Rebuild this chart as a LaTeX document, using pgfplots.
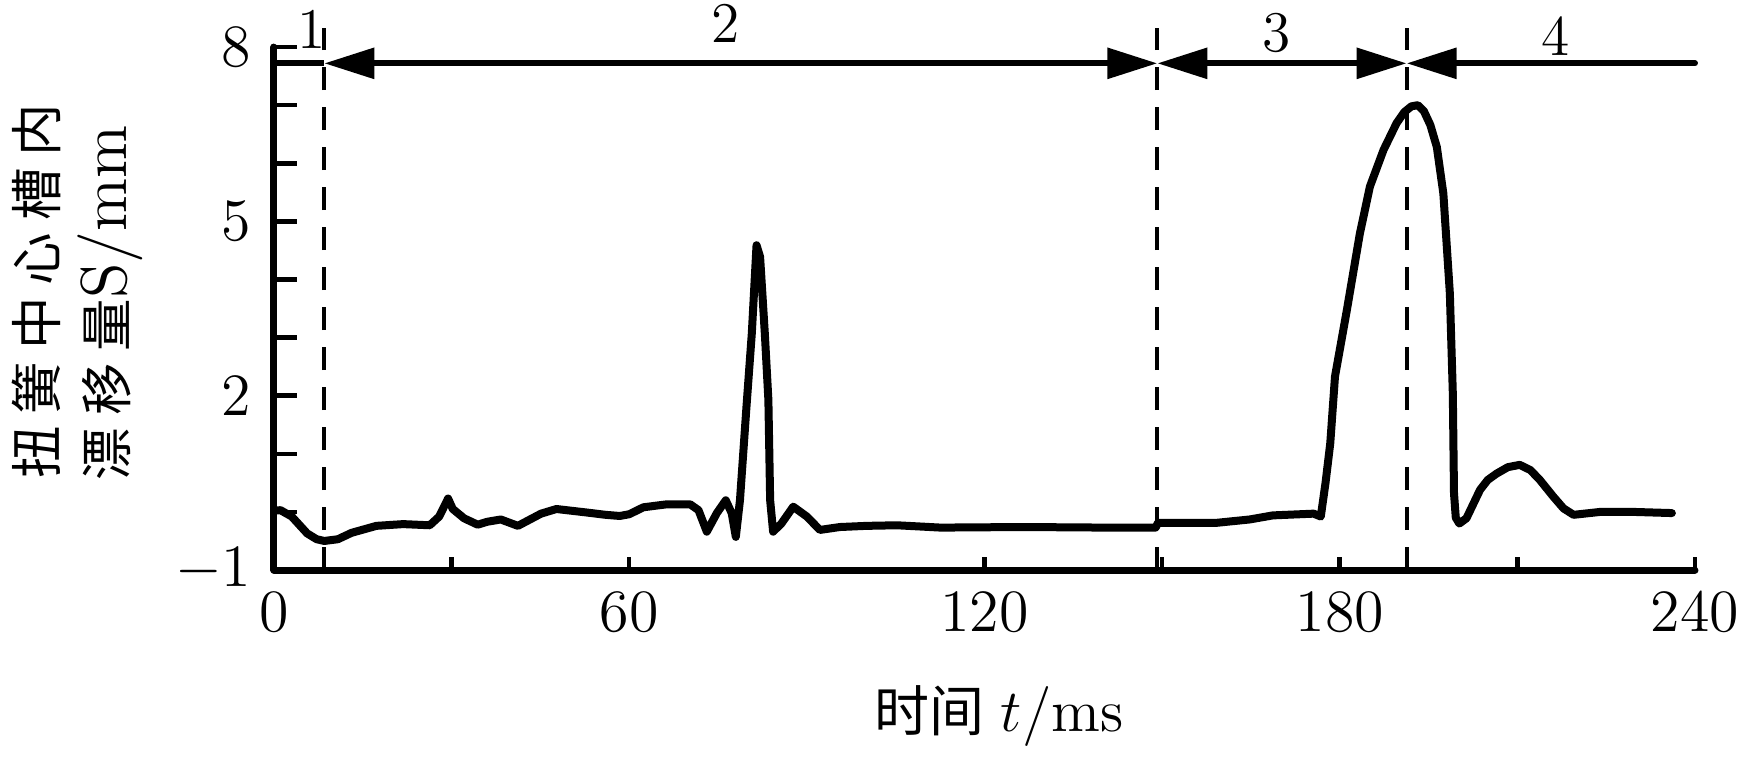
\documentclass[border=0pt]{standalone}
\usepackage{fontspec}
\usepackage{pgfplots}
\pgfplotsset{compat=1.18}
\usetikzlibrary{arrows.meta}
\newfontfamily\cjk{Noto Sans CJK SC}
\newcommand{\cgap}{\hspace{2.4pt}}
\begin{document}
\begin{tikzpicture}
\path[use as bounding box] (-54.8pt,-39.8pt) rectangle (294.4pt,114pt);
\begin{axis}[
  at={(0pt,0pt)}, anchor=south west,
  scale only axis, width=284.2pt, height=104.6pt,
  xmin=0, xmax=240, ymin=-1, ymax=8,
  axis lines=left,
  axis line style={-, line width=1.4pt, line cap=round},
  clip=false,
  tick align=inside,
  xtick={0,60,...,240}, minor xtick={30,150,210},
  ytick={-1,2,5,8}, minor ytick={0,1,3,4,6,7},
  major tick length=4.6pt, minor tick length=4.6pt,
  xtick style={/pgfplots/major tick length=2.6pt, /pgfplots/minor tick length=2.6pt},
  every tick/.style={line width=0.9pt, black},
  ticklabel style={font=\fontsize{11.5}{13}\selectfont},
  xticklabel style={yshift=-1pt},
  yticklabel style={xshift=-1pt},
]
\addplot[black, line width=1.6pt, line join=round, line cap=round] coordinates {
(0,0.02) (1.1,0.03) (3.0,-0.08) (5.6,-0.37) (7.2,-0.47) (8.5,-0.50) (10.8,-0.47) (13.1,-0.36)
(17.3,-0.24) (21.8,-0.21) (26.3,-0.23) (27.9,-0.08) (29.4,0.23) (30.2,0.05)
(32.1,-0.11) (34.4,-0.22) (36,-0.17) (38.3,-0.13) (41.2,-0.24) (45.1,-0.03)
(47.7,0.05) (52.8,-0.01) (56,-0.05) (58.4,-0.07) (60,-0.04) (62.4,0.08)
(66.3,0.13) (70.3,0.13) (71.7,0.03) (73.1,-0.34) (74.8,-0.02) (76.3,0.20)
(77.3,-0.02) (78.0,-0.43) (78.7,0.20) (79.8,1.81) (80.7,3.07) (81.5,4.59)
(82.1,4.39) (82.9,3.07) (83.5,1.93) (83.8,0.20) (84.3,-0.34) (85.7,-0.20)
(87.7,0.09) (90.0,-0.08) (92.2,-0.31) (95.6,-0.26) (100.1,-0.24) (105.2,-0.23)
(112.6,-0.27) (126.6,-0.26) (140.5,-0.27) (148.9,-0.27) (149.3,-0.19)
(159,-0.19) (164.8,-0.13) (168.7,-0.06) (175.6,-0.03) (176.8,-0.08)
(177.6,0.5) (178.4,1.18) (179.2,2.33) (181.2,3.47) (183.4,4.79) (185.1,5.6) (187.4,6.23)
(189.6,6.69) (190.9,6.88) (192.1,6.98) (193.2,7.0) (194.2,6.9) (195.3,6.66) (196.4,6.28) (197.5,5.48)
(198.6,3.76) (199.1,2.04) (199.3,0.32) (199.6,-0.1) (200.2,-0.2) (201.4,-0.11) (203.7,0.38)
(205.0,0.55) (206.5,0.66) (208.4,0.77) (210.4,0.81) (212.2,0.72) (213.8,0.55) (216.1,0.26) (217.8,0.06) (219.5,-0.05) (224.0,0.0)
(229.6,0.0) (236.1,-0.02)
};
% dashed separators
\addplot[black, line width=0.8pt, dash pattern=on 4.6pt off 3.4pt] coordinates {(8.5,-1) (8.5,8.33)};
\addplot[black, line width=0.8pt, dash pattern=on 4.6pt off 3.4pt] coordinates {(149.2,-1) (149.2,8.33)};
\addplot[black, line width=0.8pt, dash pattern=on 4.6pt off 3.4pt] coordinates {(191.3,-1) (191.3,8.33)};
% stage arrows
\addplot[black, line width=1.2pt] coordinates {(0,7.72) (8.5,7.72)};
\addplot[black, line width=1.2pt, {Triangle[length=10pt,width=6pt]}-{Triangle[length=10pt,width=6pt]}] coordinates {(8.5,7.72) (149.2,7.72)};
\addplot[black, line width=1.2pt, {Triangle[length=10pt,width=6pt]}-{Triangle[length=10pt,width=6pt]}] coordinates {(149.2,7.72) (191.3,7.72)};
\addplot[black, line width=1.2pt, line cap=round, {Triangle[length=10pt,width=6pt]}-] coordinates {(191.3,7.72) (240,7.72)};
\node[font=\fontsize{11.5}{13}\selectfont] at (axis cs:6.3,8.31) {1};
\node[font=\fontsize{11.5}{13}\selectfont] at (axis cs:76.3,8.40) {2};
\node[font=\fontsize{11.5}{13}\selectfont] at (axis cs:169.4,8.24) {3};
\node[font=\fontsize{11.5}{13}\selectfont] at (axis cs:216.5,8.19) {4};
\end{axis}
\node[rotate=90, inner sep=0pt] at (-47.6pt,55.8pt)
  {\fontsize{10.5}{12}\cjk 扭\cgap 簧\cgap 中\cgap 心\cgap 槽\cgap 内};
\node[rotate=90, inner sep=0pt] at (-32.8pt,53.4pt)
  {{\fontsize{10.5}{12}\cjk 漂\cgap 移\cgap 量}{\fontsize{13}{14}\selectfont S/mm}};
\node[inner sep=0pt] at (145pt,-29.2pt)
  {{\fontsize{11}{12}\cjk 时间} {\fontsize{12}{14}\selectfont $t$/ms}};
\end{tikzpicture}
\end{document}
